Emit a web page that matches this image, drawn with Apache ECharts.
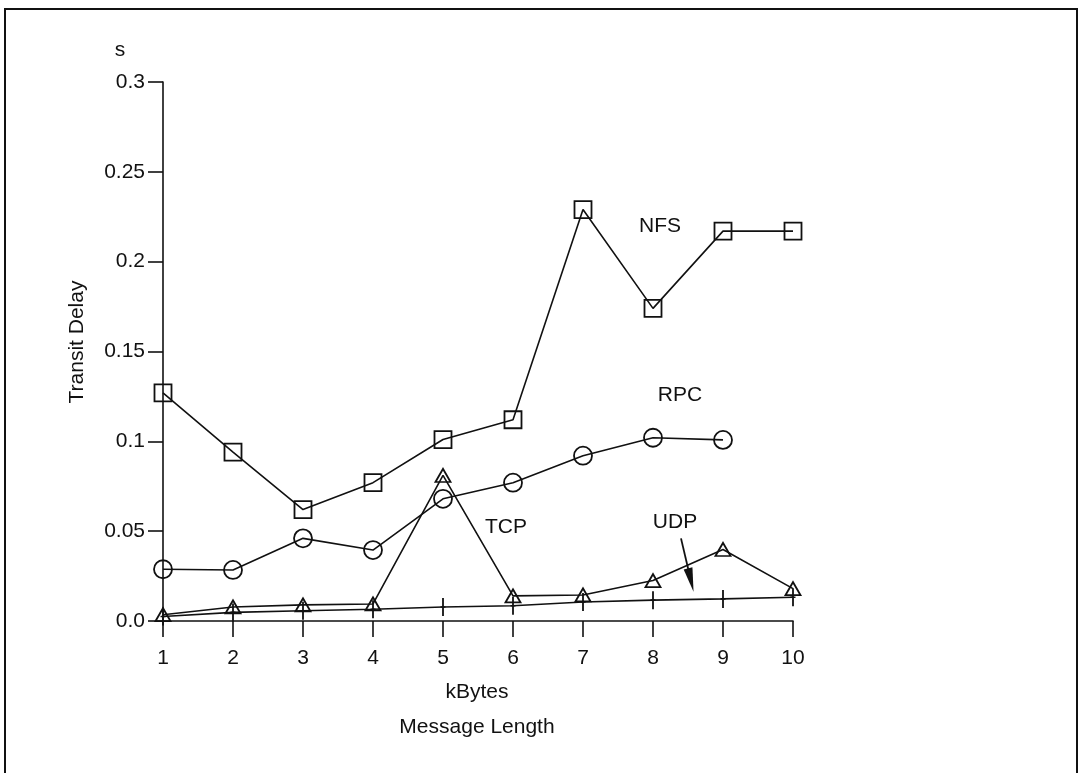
<!DOCTYPE html>
<html>
<head>
<meta charset="utf-8">
<script src="https://cdn.jsdelivr.net/npm/echarts@6/dist/echarts.min.js"></script>
<style>
  html, body { margin: 0; padding: 0; background: #fff; }
  #chart { width: 1080px; height: 773px; }
</style>
</head>
<body>
<div id="chart"></div>
<script>
// Message length in kBytes
const messageLength = [1, 2, 3, 4, 5, 6, 7, 8, 9, 10];

// Transit delay in seconds for each protocol
const nfsDelay = [0.127, 0.094, 0.062, 0.077, 0.101, 0.112, 0.229, 0.174, 0.217, 0.217];
const rpcDelay = [0.0288, 0.0284, 0.046, 0.0395, 0.068, 0.077, 0.092, 0.102, 0.1008];
const tcpDelay = [0.0035, 0.0078, 0.009, 0.0095, 0.081, 0.014, 0.0145, 0.0225, 0.0398, 0.018];
const udpDelay = [0.0025, 0.0048, 0.0057, 0.0065, 0.0078, 0.0085, 0.0106, 0.0116, 0.0123, 0.0132];

// Y axis ticks
const yTicks = [0, 0.05, 0.1, 0.15, 0.2, 0.25, 0.3];

const FONT = '"Liberation Sans", Arial, Helvetica, sans-serif';
const FONT_SIZE = 21;
const INK = '#111';

function pairs(values) {
  return values.map((v, i) => [messageLength[i], v]);
}

const lineStyle = { color: INK, width: 1.6 };
const hollow = { color: 'rgba(255,255,255,0)', borderColor: INK, borderWidth: 1.8 };

// Upright cross used for the UDP points (filled outline, tall stem)
const crossSymbol = 'path://M1.6,0H3.4V18H1.6Z M0,8.2H5V9.8H0Z';

function label(text, x, y, extra) {
  return Object.assign({
    type: 'text', x, y, silent: true,
    style: { text, font: FONT_SIZE + 'px ' + FONT, fill: INK, align: 'center', verticalAlign: 'middle' }
  }, extra || {});
}

const chart = echarts.init(document.getElementById('chart'), null, { renderer: 'canvas' });

chart.setOption({
  animation: false,
  backgroundColor: '#fff',
  grid: { left: 163, right: 287, top: 82, bottom: 152 },
  xAxis: {
    type: 'value',
    min: 1,
    max: 10,
    interval: 1,
    axisLine: { show: true, lineStyle: { color: INK, width: 1.6 } },
    axisTick: { show: true, length: 16, lineStyle: { color: INK, width: 1.6 } },
    axisLabel: { color: INK, fontFamily: FONT, fontSize: FONT_SIZE, margin: 27 },
    splitLine: { show: false }
  },
  yAxis: {
    type: 'value',
    min: yTicks[0],
    max: yTicks[yTicks.length - 1],
    interval: 0.05,
    axisLine: { show: true, lineStyle: { color: INK, width: 1.6 } },
    axisTick: { show: true, length: 15, lineStyle: { color: INK, width: 1.6 } },
    axisLabel: {
      color: INK, fontFamily: FONT, fontSize: FONT_SIZE, margin: 18,
      formatter: v => (v === 0 ? '0.0' : String(parseFloat(v.toFixed(2))))
    },
    splitLine: { show: false }
  },
  series: [
    {
      name: 'NFS', type: 'line', data: pairs(nfsDelay),
      symbol: 'rect', symbolSize: 17,
      lineStyle, itemStyle: hollow
    },
    {
      name: 'RPC', type: 'line', data: pairs(rpcDelay),
      symbol: 'circle', symbolSize: 18,
      lineStyle, itemStyle: hollow
    },
    {
      name: 'TCP', type: 'line', data: pairs(tcpDelay),
      symbol: 'triangle', symbolSize: [15, 13],
      lineStyle, itemStyle: hollow
    },
    {
      name: 'UDP', type: 'line', data: pairs(udpDelay),
      symbol: crossSymbol, symbolSize: [5, 18],
      lineStyle, itemStyle: { color: INK, borderWidth: 0 },
      markLine: {
        silent: true,
        symbol: ['none', 'triangle'],
        symbolSize: [9, 24],
        label: { show: false },
        lineStyle: { color: INK, width: 1.8, type: 'solid' },
        itemStyle: { color: INK },
        data: [[{ coord: [8.4, 0.046] }, { coord: [8.54, 0.0228] }]]
      }
    }
  ],
  graphic: [
    // page frame
    {
      type: 'polyline', silent: true,
      shape: { points: [[5, 773], [5, 9], [1077, 9], [1077, 773]] },
      style: { stroke: INK, lineWidth: 2, fill: null }
    },
    label('s', 120, 50),
    label('Transit Delay', 77, 342, { rotation: Math.PI / 2 }),
    label('kBytes', 477, 692),
    label('Message Length', 477, 727),
    label('NFS', 660, 226),
    label('RPC', 680, 395),
    label('TCP', 506, 527),
    label('UDP', 675, 522)
  ]
});
</script>
</body>
</html>
